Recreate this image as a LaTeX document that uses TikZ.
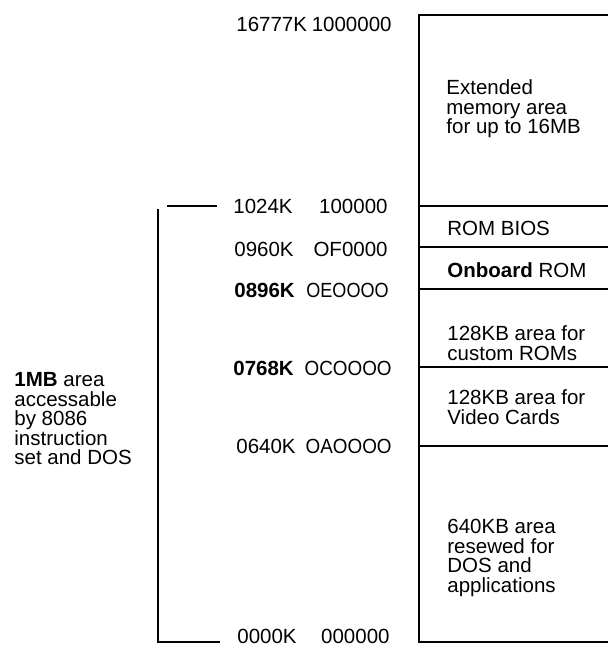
\documentclass[tikz,border=0pt]{standalone}
\usepackage{fontspec}
\usepackage{graphicx}
\setmainfont{Liberation Sans}
\usetikzlibrary{positioning}

\newcommand{\slim}[2]{\scalebox{#1}[1]{#2}}

\begin{document}
\begin{tikzpicture}[
  x=0.5pt, y=-0.5pt,
  lbl/.style={inner sep=0pt, font=\fontsize{10.25}{9.75}\selectfont},
  kval/.style={lbl, anchor=west},
  hexval/.style={lbl, anchor=east},
  area/.style={lbl, anchor=west, align=left},
  wall/.style={line width=1pt},
  tick/.style={line width=0.75pt},
]
\useasboundingbox (0,0) rectangle (608,646);

% memory map column
\coordinate (maptop) at (419,15);
\coordinate (mapbot) at (419,642);
\draw[wall] (608,15) -- (maptop) -- (mapbot) -- (608,642);
\foreach \y in {206,247,289,367,446}
  \draw[wall] (419,\y) -- (608,\y);

% addresses
\node[kval]   (k16777) at (236,24)  {16777K};
\node[hexval] (h16777) at (392,24)  {1000000};
\node[kval]   (k1024)  at (233,206) {1024K};
\node[hexval] (h1024)  at (388,206) {100000};
\node[kval]   (k0960)  at (234,249) {0960K};
\node[hexval] (h0960)  at (388,249) {OF0000};
\node[kval]   (k0896)  at (234,290) {\textbf{0896K}};
\node[hexval] (h0896)  at (389,290) {\slim{0.88}{OEOOOO}};
\node[kval]   (k0768)  at (233,368) {\textbf{0768K}};
\node[hexval] (h0768)  at (392,368) {\slim{0.92}{OCOOOO}};
\node[kval]   (k0640)  at (236,446) {0640K};
\node[hexval] (h0640)  at (392,446) {\slim{0.92}{OAOOOO}};
\node[kval]   (k0000)  at (237,636) {0000K};
\node[hexval] (h0000)  at (390,636) {000000};

% areas
\node[area] (ext)    at (446,109) {Extended\\memory area\\for up to 16MB};
\node[area] (bios)   at (447,228) {ROM BIOS};
\node[area] (onbrd)  at (447,270) {\textbf{Onboard} ROM};
\node[area] (custom) at (447,343) {128KB area for\\custom ROMs};
\node[area] (video)  at (447,407) {128KB area for\\Video Cards};
\node[area] (dos)    at (447,558) {640KB area\\resewed for\\DOS and\\applications};

% 1MB bracket
\coordinate (brtop) at (158,209);
\coordinate (brbot) at (158,642);
\draw[wall] (brtop) -- (brbot) -- (220,642);
\draw[tick] (167,206) -- (217,206);
\node[area] (onemb) at (14,419) {\textbf{1MB} area\\accessable\\by 8086\\instruction\\set and DOS};
\end{tikzpicture}
\end{document}
